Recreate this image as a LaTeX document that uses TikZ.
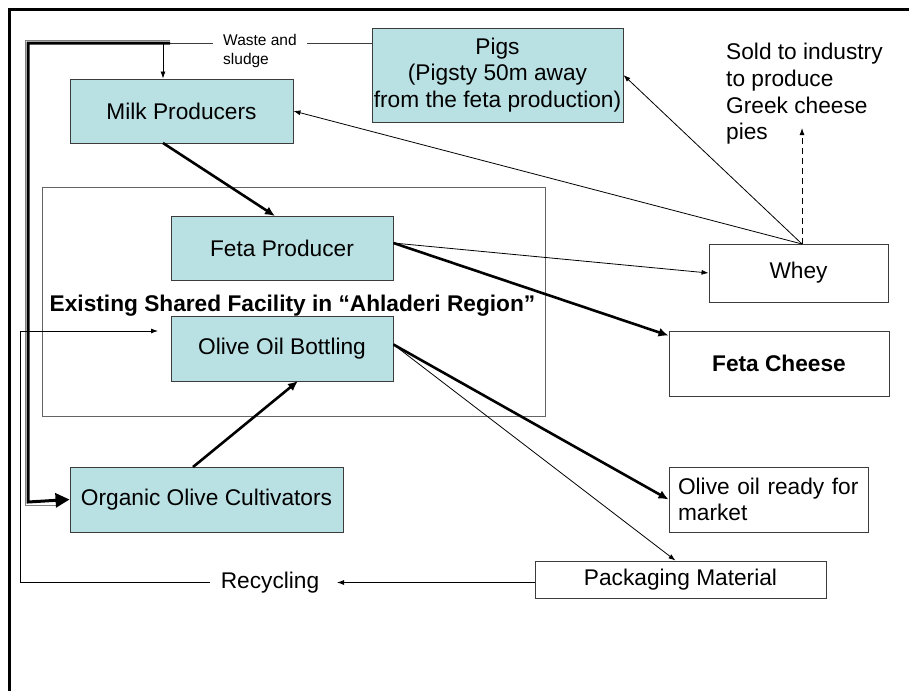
\documentclass[tikz,border=0pt]{standalone}
\usepackage{fontspec}
\setmainfont{Liberation Sans}
\usetikzlibrary{arrows.meta,calc}
\definecolor{boxteal}{RGB}{185,224,227}
\definecolor{edgegray}{RGB}{60,60,60}
\definecolor{framegray}{RGB}{100,100,100}
\begin{document}
\begin{tikzpicture}[x=1pt,y=-1pt,
  every node/.style={font=\fontsize{22.7}{26.7}\selectfont},
  tealbox/.style={draw=edgegray,line width=0.9pt,fill=boxteal,rectangle,inner sep=0pt,align=center},
  whitebox/.style={draw=edgegray,line width=0.9pt,fill=white,rectangle,inner sep=0pt,align=center},
  thinarrow/.style={line width=0.8pt,-{Latex[length=7pt,width=5pt]}},
  thickarrow/.style={line width=2.6pt,-{Latex[length=10pt,width=9pt]}},
  plainline/.style={line width=0.8pt}
]
\useasboundingbox (0,0) rectangle (909,691);

% outer frame (top and left edges)
\draw[line width=3pt] (909,9) -- (9,9) -- (9,691);

% shared facility frame
\draw[framegray,line width=0.9pt] (42,187) rectangle (545,416);
\node[font=\bfseries\fontsize{22.7}{26.7}\selectfont] (facility) at (292.5,305.5) {Existing Shared Facility in “Ahladeri Region”};

% process boxes
\node[tealbox,minimum width=223pt,minimum height=64pt] (milk) at (181.5,111) {Milk Producers};
\node[tealbox,minimum width=251pt,minimum height=94pt] (pigs) at (497.5,75) {Pigs\\(Pigsty 50m away\\from the feta production)};
\node[tealbox,minimum width=222pt,minimum height=64pt] (feta) at (282,248) {Feta Producer};
\node[tealbox,minimum width=222pt,minimum height=65pt] (olive) at (282,348.5) {Olive Oil Bottling};
\node[tealbox,minimum width=273pt,minimum height=65pt] (organic) at (206.5,499.5) {Organic Olive Cultivators};

% output boxes
\node[whitebox,minimum width=179pt,minimum height=58pt] (whey) at (798.5,273) {Whey};
\node[whitebox,minimum width=220pt,minimum height=65pt,font=\bfseries\fontsize{22.7}{26.7}\selectfont] (cheese) at (779,363.5) {Feta Cheese};
\node[whitebox,minimum height=65pt,text width=181pt,inner xsep=9pt,align=left] (ready) at (768.5,499.5) {\mbox{Olive oil ready for}\\market};
\node[whitebox,minimum width=291pt,minimum height=37pt] (pack) at (680.5,579.5) {Packaging Material};

% free texts
\node[anchor=north west,align=left,inner sep=0pt] (sold) at (726,43) {Sold to industry\\to produce\\Greek cheese\\pies};
\node (recycling) at (270,583) {Recycling};

% waste and sludge line from the pigsty
\coordinate (wastejoin) at (170,43);
\coordinate (wastedrop) at (163,43);
\draw[plainline,edgegray] (pigs.west |- wastejoin) -- (wastejoin);
\node[fill=white,inner xsep=10pt,inner ysep=0pt,align=left,font=\fontsize{15.5}{19}\selectfont,anchor=north west] (waste) at (213,34) {Waste and\\sludge};
\draw[thinarrow] (wastedrop) -- (wastedrop |- milk.north);

% thick waste route to the olive cultivators
\draw[gray,line width=1pt] (170,40) -- (25,40) -- (25,505) -- (58,505);
\draw[line width=3pt,-{Triangle[length=14pt,width=14pt]}] (wastejoin) -- (28,43) -- (28,502) -- (organic.west);

% main flows
\coordinate (milkout) at (163,143);
\coordinate (fetain) at (275,216);
\draw[thickarrow] (milkout) -- (fetain);
\coordinate (orgout) at (193,467);
\coordinate (olivein) at (298,381);
\draw[thickarrow] (orgout) -- (olivein);

\coordinate (fetaout) at ($(feta.east)+(0,-5)$);
\draw[thinarrow] (fetaout) -- (whey.west);
\draw[thickarrow] (fetaout) -- ($(cheese.north west)+(0,5)$);

\coordinate (oliveout) at ($(olive.east)+(0,-4)$);
\draw[thickarrow] (oliveout) -- (ready.west);
\draw[thinarrow] (oliveout) -- ($(pack.north)+(-5,0)$);

% whey re-use
\coordinate (wheytop) at (802,244);
\draw[thinarrow] (wheytop) -- (milk.east);
\draw[thinarrow] (wheytop) -- (pigs.east);
\draw[line width=0.9pt,dash pattern=on 6pt off 4pt,-{Latex[length=7pt,width=5pt]}] (wheytop) -- (802,128);

% recycling loop
\coordinate (packout) at ($(pack.west)+(0,3)$);
\coordinate (recin) at (337,582.5);
\coordinate (recout) at (210,582.5);
\coordinate (olivefeed) at (158,331);
\draw[thinarrow] (packout) -- (recin);
\draw[thinarrow] (recout) -- (20,582.5) -- (20,331) -- (olivefeed);
\end{tikzpicture}
\end{document}
